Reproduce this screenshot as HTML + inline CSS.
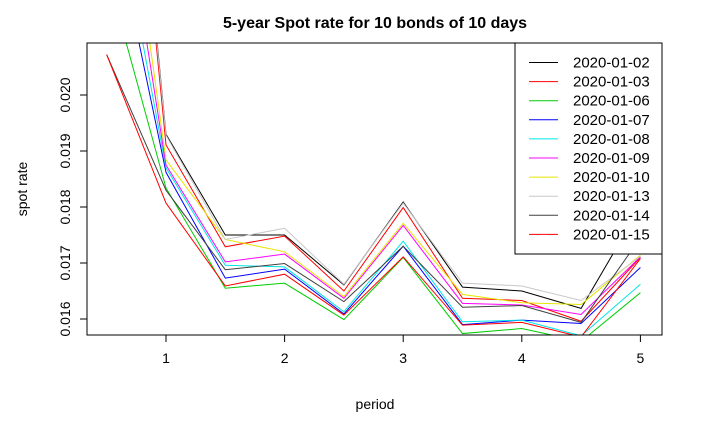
<!DOCTYPE html>
<html><head><meta charset="utf-8"><style>
body{margin:0;background:#fff}
svg{display:block;font-family:"Liberation Sans",Arial,sans-serif}
</style></head><body>
<svg id="chart" width="712" height="427" viewBox="0 0 712 427">
<defs><clipPath id="pc"><rect x="87" y="43" width="575" height="292"/></clipPath></defs>
<text x="375" y="28" text-anchor="middle" font-size="16" font-weight="bold">5-year Spot rate for 10 bonds of 10 days</text>
<text x="375" y="409" text-anchor="middle" font-size="14">period</text>
<text transform="translate(27,189) rotate(-90)" text-anchor="middle" font-size="14">spot rate</text>
<g id="series" clip-path="url(#pc)"></g>
<g id="axes"></g>
<rect x="87" y="43" width="575" height="292" fill="none" stroke="#000" stroke-width="1"/>
<g id="legend"></g>
</svg>
<script>
const periods=[0.5,1,1.5,2,2.5,3,3.5,4,4.5,5];
const dates=["2020-01-02","2020-01-03","2020-01-06","2020-01-07","2020-01-08","2020-01-09","2020-01-10","2020-01-13","2020-01-14","2020-01-15"];
const colors=["#000000","#ff0000","#00cd00","#0000ff","#00e5e5","#ff00ff","#e5e500","#c8c8c8","#404040","#ff0000"];
const s0102=[0.0302,0.01930,0.01750,0.01750,0.01661,0.01809,0.01657,0.01650,0.01619,0.01800];
const s0103=[0.0300,0.01911,0.01729,0.01748,0.01650,0.01799,0.01637,0.01633,0.01596,0.01710];
const s0106=[0.0222,0.01834,0.01655,0.01664,0.01599,0.01710,0.01574,0.01583,0.01560,0.01647];
const s0107=[0.0237,0.01862,0.01673,0.01689,0.01609,0.01730,0.01590,0.01598,0.01592,0.01692];
const s0108=[0.0244,0.01870,0.01696,0.01693,0.01613,0.01739,0.01595,0.01598,0.01570,0.01662];
const s0109=[0.0255,0.01875,0.01702,0.01716,0.01637,0.01767,0.01628,0.01625,0.01608,0.01711];
const s0110=[0.0265,0.01884,0.01742,0.01720,0.01640,0.01771,0.01644,0.01629,0.01626,0.01714];
const s0113=[0.0300,0.01928,0.01742,0.01762,0.01662,0.01807,0.01664,0.01659,0.01633,0.01712];
const s0114=[0.02072,0.01830,0.01688,0.01699,0.01631,0.01730,0.01621,0.01624,0.01594,0.01745];
const s0115=[0.02072,0.01807,0.01659,0.01680,0.01607,0.01711,0.01589,0.01594,0.01568,0.01708];
const series=[s0102,s0103,s0106,s0107,s0108,s0109,s0110,s0113,s0114,s0115];
const xTicks=[1,2,3,4,5];
const yTicks=[0.016,0.017,0.018,0.019,0.020];
const NS="http://www.w3.org/2000/svg";
function xs(v){return 166+(v-1)*118.6;}
function ys(v){return 319-(v-0.016)*56000;}
function mk(tag,attrs,parent){const e=document.createElementNS(NS,tag);for(const k in attrs)e.setAttribute(k,attrs[k]);parent.appendChild(e);return e;}
const sg=document.getElementById('series');
series.forEach((s,i)=>{
  const p=mk('polyline',{points:s.map((v,j)=>xs(periods[j])+','+ys(v)).join(' '),fill:'none',stroke:colors[i],'stroke-width':1},sg);
  
  
});
const ax=document.getElementById('axes');
xTicks.forEach(t=>{
  const l=mk('line',{x1:xs(t),x2:xs(t),y1:335,y2:342,stroke:'#000'},ax);
  
  
  const tx=mk('text',{x:xs(t),y:363,'text-anchor':'middle','font-size':14},ax);
  tx.textContent=t;
  
  
});
yTicks.forEach(t=>{
  const l=mk('line',{x1:80,x2:87,y1:ys(t),y2:ys(t),stroke:'#000'},ax);
  
  
  const tx=mk('text',{transform:'translate(70,'+ys(t)+') rotate(-90)','text-anchor':'middle','font-size':14},ax);
  tx.textContent=t.toFixed(3);
  
  
});
const lg=document.getElementById('legend');
mk('rect',{x:515,y:43,width:147,height:211,fill:'#fff',stroke:'#000'},lg);
dates.forEach((d,i)=>{
  const y=62.5+i*19.1;
  const l=mk('line',{x1:529,x2:558,y1:y,y2:y,stroke:colors[i]},lg);
  
  
  const t=mk('text',{x:573,y:y+5,'font-size':15},lg);
  t.textContent=d;
  
  
});
</script>
</body></html>
